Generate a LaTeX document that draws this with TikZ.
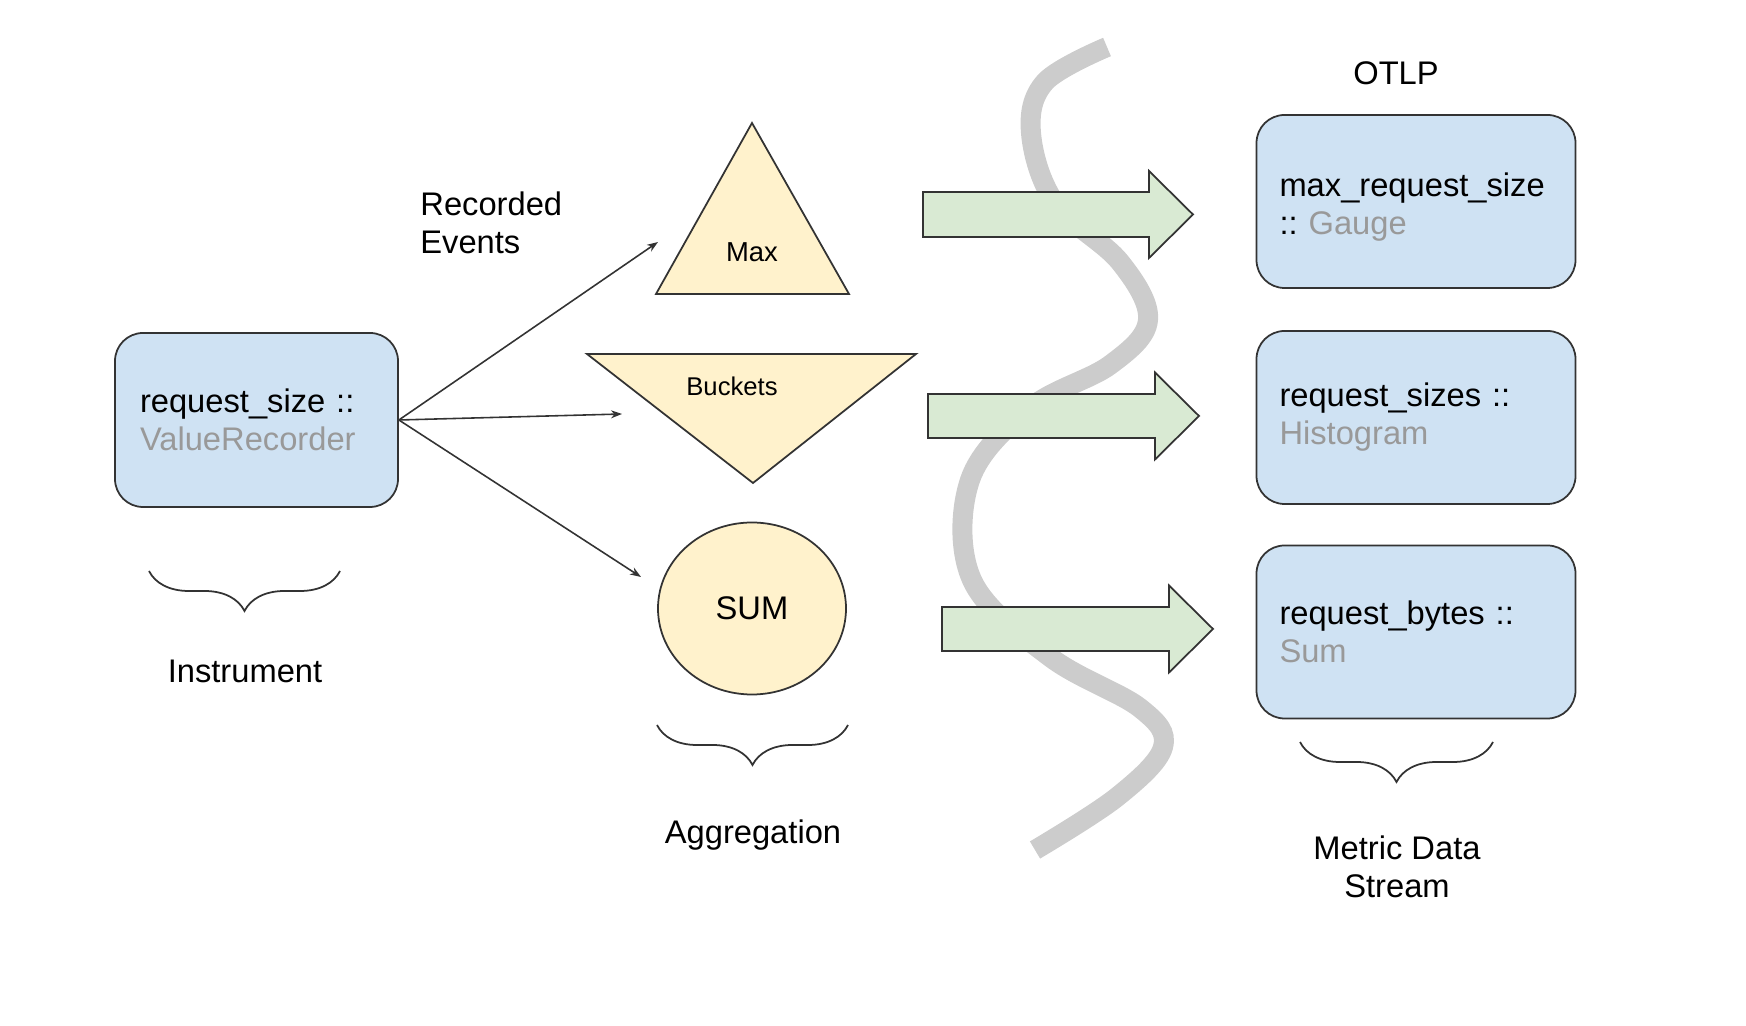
\documentclass[tikz,border=0pt]{standalone}
\usepackage{fontspec}
\setmainfont{Liberation Sans}
\usetikzlibrary{arrows.meta,decorations.pathreplacing,shapes.geometric}
\definecolor{boxblue}{HTML}{CFE2F3}
\definecolor{shapeyellow}{HTML}{FFF2CC}
\definecolor{flowgreen}{HTML}{D9EAD3}
\definecolor{wavegray}{HTML}{CCCCCC}
\definecolor{typegray}{HTML}{999999}
\definecolor{edgegray}{HTML}{333333}
\frenchspacing

\begin{document}
\begin{tikzpicture}[
    metricbox/.style={draw=edgegray, fill=boxblue, line width=0.5pt, rounded corners=0.28cm,
        minimum height=1.73cm, text width=2.73cm, inner xsep=0.23cm, align=left,
        font=\fontsize{9.3}{10.8}\selectfont},
    shapefill/.style={draw=edgegray, fill=shapeyellow, line width=0.5pt},
    flowarrow/.style={draw=edgegray, fill=flowgreen, line width=0.5pt},
    recorded/.style={-{Stealth[length=1.1mm,width=0.8mm]}, line width=0.45pt, edgegray},
    groupbrace/.style={decorate, decoration={brace, amplitude=0.4cm, mirror}, line width=0.5pt, edgegray},
    caption/.style={align=center, font=\fontsize{9.3}{10.8}\selectfont}
]

    % Fix the page to the size of the reference
    \useasboundingbox (0,0) rectangle (17.46,-10.26);

    % The gray wave in the background
    \draw[wavegray, line width=0.2cm] plot[smooth, tension=0.6] coordinates {
        (11.07,-0.47) (10.45,-0.82) (10.31,-1.33) (10.55,-2.03) (11.20,-2.62)
        (11.48,-3.20) (11.10,-3.65) (10.30,-4.08) (9.70,-4.80) (9.72,-5.80)
        (10.50,-6.57) (11.40,-7.08) (11.63,-7.47) (11.17,-7.97) (10.35,-8.50)};

    % Instrument box
    \node[metricbox, text width=2.33cm, inner xsep=0.25cm, minimum height=1.74cm] (inst) at (2.565,-4.20)
        {request\_size ::\\\textcolor{typegray}{ValueRecorder}};

    % Aggregation shapes
    \coordinate (maxtop) at (7.52,-1.23);
    \coordinate (maxleft) at (6.56,-2.94);
    \coordinate (maxright) at (8.49,-2.94);
    \draw[shapefill] (maxtop) -- (maxright) -- (maxleft) -- cycle;
    \node[font=\fontsize{7.8}{9}\selectfont] (maxlabel) at (7.52,-2.52) {Max};

    \coordinate (bucketleft) at (5.87,-3.54);
    \coordinate (bucketright) at (9.16,-3.54);
    \coordinate (bucketbottom) at (7.53,-4.83);
    \draw[shapefill] (bucketleft) -- (bucketright) -- (bucketbottom) -- cycle;
    \node[font=\fontsize{7.3}{9}\selectfont] (bucketlabel) at (7.32,-3.86) {Buckets};

    \node[shapefill, ellipse, minimum width=1.88cm, minimum height=1.72cm, inner sep=0pt,
        font=\fontsize{9.3}{10.8}\selectfont] (sum) at (7.52,-6.085) {SUM};

    % Recorded events
    \coordinate (tomax) at (6.58,-2.42);
    \coordinate (tobucket) at (6.22,-4.14);
    \coordinate (tosum) at (6.41,-5.77);
    \draw[recorded] (inst.east) -- (tomax);
    \draw[recorded] (inst.east) -- (tobucket);
    \draw[recorded] (inst.east) -- (tosum);
    \node[anchor=west, align=left, font=\fontsize{9.3}{10.8}\selectfont] (events) at (4.08,-2.225) {Recorded\\Events};

    % Big arrows to OTLP
    \draw[flowarrow] (9.23,-1.92) -- (11.49,-1.92) -- (11.49,-1.71) -- (11.93,-2.145)
        -- (11.49,-2.58) -- (11.49,-2.37) -- (9.23,-2.37) -- cycle;
    \draw[flowarrow] (9.28,-3.94) -- (11.55,-3.94) -- (11.55,-3.725) -- (11.99,-4.16)
        -- (11.55,-4.595) -- (11.55,-4.38) -- (9.28,-4.38) -- cycle;
    \draw[flowarrow] (9.42,-6.07) -- (11.69,-6.07) -- (11.69,-5.855) -- (12.13,-6.29)
        -- (11.69,-6.725) -- (11.69,-6.51) -- (9.42,-6.51) -- cycle;

    % Metric data streams
    \node[caption] (otlp) at (13.96,-0.73) {OTLP};
    \node[metricbox] (gauge) at (14.16,-2.015)
        {\rule{0pt}{2.05ex}max\_request\_size\\:: \textcolor{typegray}{Gauge}};
    \node[metricbox] (histo) at (14.16,-4.175)
        {request\_sizes ::\\\textcolor{typegray}{Histogram}};
    \node[metricbox] (total) at (14.16,-6.32)
        {request\_bytes ::\\\textcolor{typegray}{Sum}};

    % Braces and captions
    \draw[groupbrace] (1.49,-5.71) -- (3.40,-5.71);
    \node[caption] (instcap) at (2.45,-6.71) {Instrument};
    \draw[groupbrace] (6.57,-7.25) -- (8.48,-7.25);
    \node[caption] (aggcap) at (7.53,-8.35) {Aggregation};
    \draw[groupbrace] (13.00,-7.42) -- (14.93,-7.42);
    \node[caption] (streamcap) at (13.97,-8.67) {Metric Data\\Stream};

\end{tikzpicture}
\end{document}
